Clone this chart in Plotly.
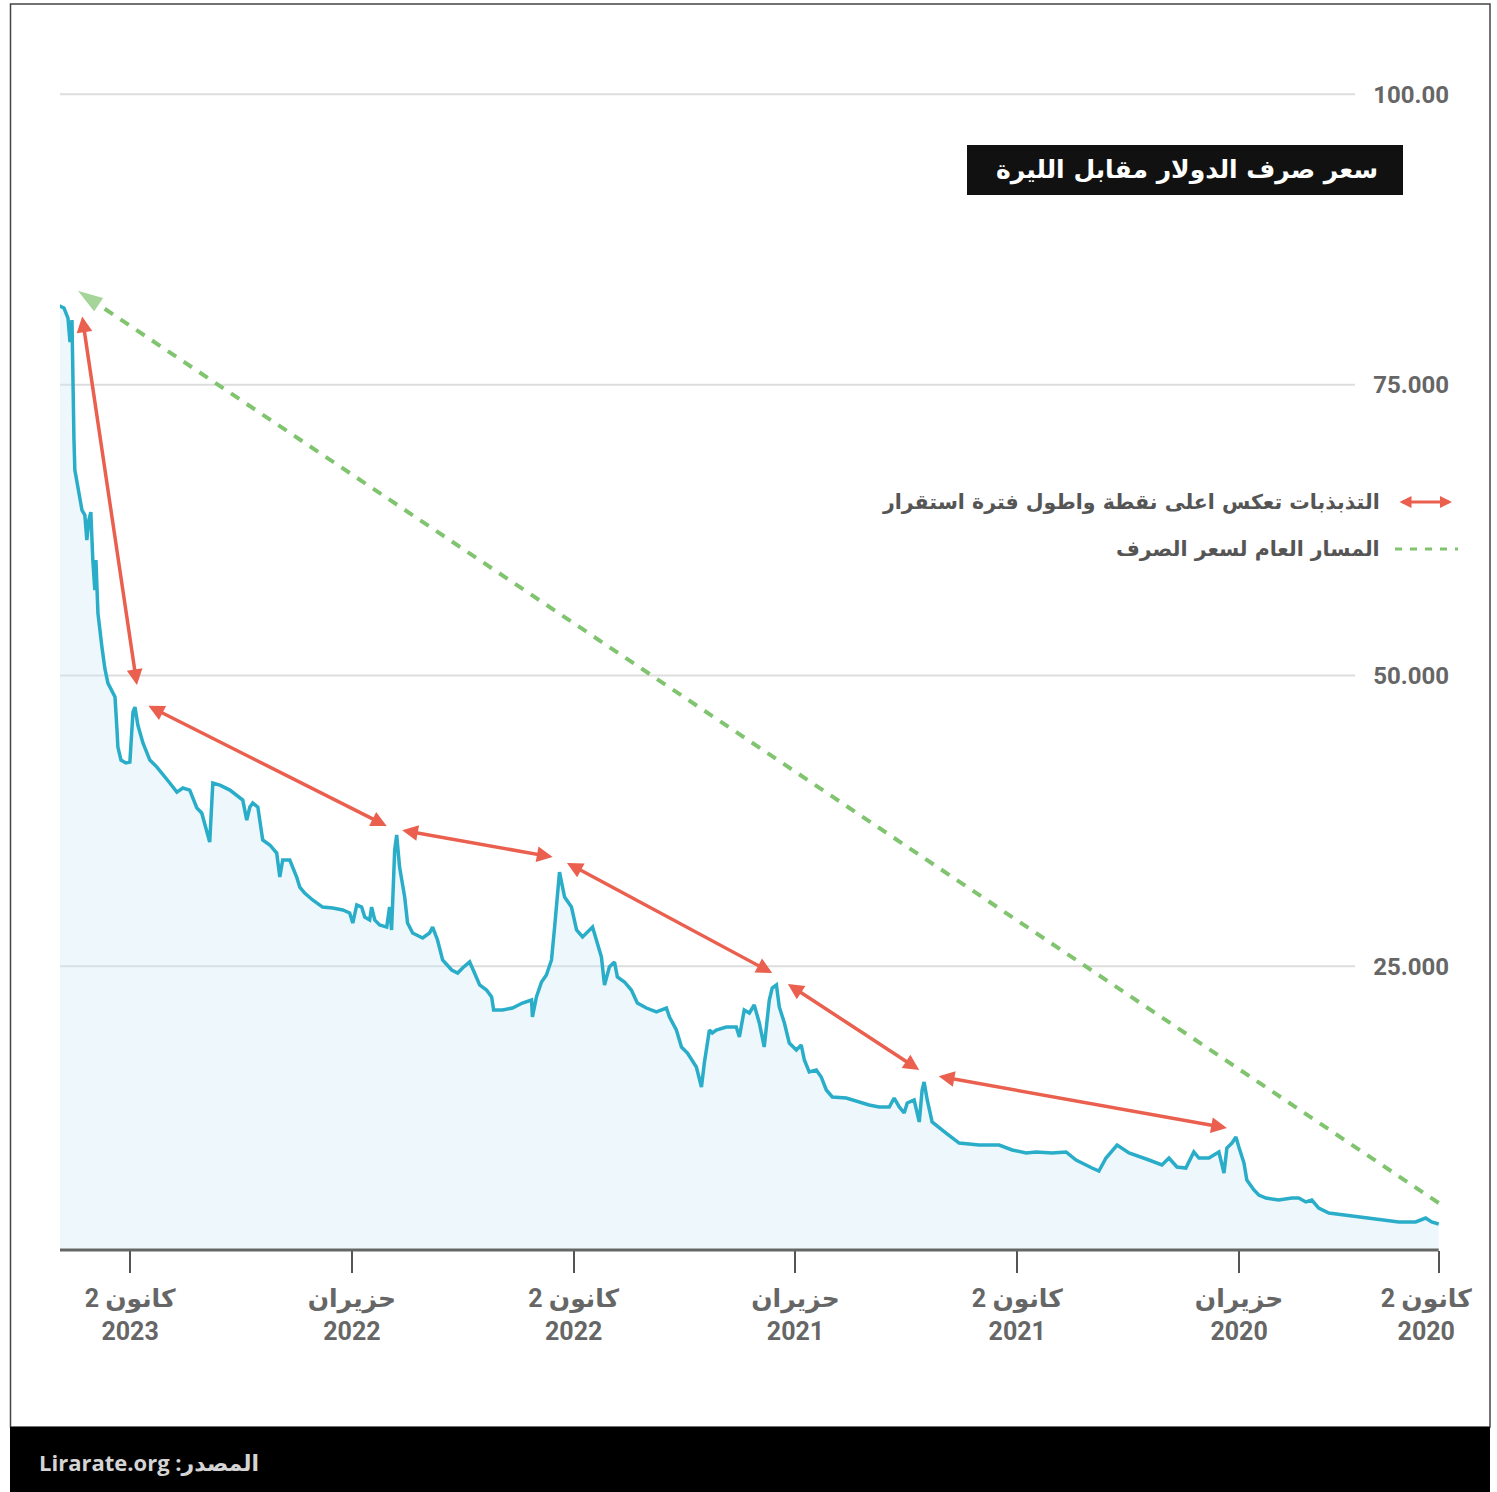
import plotly.graph_objects as go

# ---- data (x = half-year slot position, 0 = Jan 2020, 9 = Jun 2020, 19 = Jan 2021 ...; y = thousand LBP per USD)
period = [62.25, 61.98, 61.80, 61.71, 61.62, 61.58, 61.53, 61.49, 61.35, 61.17, 61.04, 60.95, 60.86, 60.77,
          60.68, 60.59, 60.54, 60.50, 60.45, 60.27, 60.14, 60.00, 59.82, 59.68, 59.59, 59.55, 59.41, 59.19,
          59.01, 58.87, 58.78, 58.65, 58.42, 58.11, 57.79, 57.52, 57.21, 56.89, 56.62, 56.31, 55.99, 55.77,
          55.54, 55.41, 55.27, 54.95, 54.50, 54.19, 53.92, 53.74, 53.60, 53.47, 53.24, 53.02, 52.70, 52.39,
          52.25, 52.12, 51.80, 51.49, 51.35, 51.13, 50.77, 50.32, 49.86, 49.41, 49.10, 48.96, 48.78, 48.56,
          48.42, 48.20, 48.11, 47.97, 47.75, 47.43, 47.30, 47.21, 47.07, 46.98, 46.85, 46.62, 46.49, 46.26,
          45.81, 45.50, 45.36, 45.14, 44.91, 44.50, 44.23, 44.01, 43.69, 43.47, 43.24, 42.93, 42.70, 42.61,
          42.21, 41.76, 41.31, 40.90, 40.86, 40.68, 40.45, 40.23, 40.00, 39.86, 39.64, 39.41, 39.10, 38.87,
          38.60, 38.15, 37.93, 37.75, 37.61, 37.39, 37.16, 37.03, 36.71, 36.40, 36.13, 35.72, 35.27, 34.82,
          34.68, 34.37, 34.14, 33.87, 33.47, 33.24, 33.11, 32.88, 32.75, 32.57, 32.12, 31.67, 31.53, 31.31,
          31.08, 30.86, 30.63, 30.41, 30.18, 30.05, 29.86, 29.73, 29.50, 29.28, 28.96, 28.74, 28.60, 28.38,
          28.06, 27.84, 27.61, 27.34, 26.71, 26.13, 25.68, 25.23, 24.77, 24.55, 24.32, 24.10, 23.96, 23.65,
          23.42, 23.29, 23.20, 23.06, 22.84, 22.21, 21.62, 20.72, 19.82, 19.23, 18.60, 18.15, 17.43, 16.80,
          16.35, 15.63, 15.32, 15.00, 14.50, 13.96, 13.38, 13.06, 12.48, 12.16, 11.80, 11.40, 11.04, 10.81,
          10.36, 9.91, 9.68, 9.55, 9.32, 9.14, 9.01, 8.78, 8.65, 8.33, 8.11, 7.79, 7.21, 6.62,
          6.31, 5.99, 5.72, 5.41, 4.95, 4.19, 3.29, 2.57, 1.80, 1.04, 0.59, 0.32, 0.00]
rate = [81.86, 81.60, 80.74, 78.68, 80.57, 74.55, 70.25, 67.67, 65.95, 64.23, 63.80, 61.65, 63.37, 64.06,
        59.93, 57.35, 59.93, 58.21, 55.37, 52.45, 50.64, 49.35, 48.58, 48.15, 45.31, 43.85, 42.73, 42.48,
        42.56, 46.86, 47.29, 45.74, 44.20, 42.73, 42.13, 41.44, 40.76, 39.98, 40.33, 40.15, 38.61, 38.18,
        36.54, 35.68, 40.76, 40.58, 40.15, 39.72, 39.29, 37.57, 38.69, 39.04, 38.69, 35.86, 35.43, 34.74,
        32.67, 34.14, 34.14, 32.67, 31.81, 31.30, 30.70, 30.09, 30.01, 29.84, 29.58, 28.72, 30.27, 30.09,
        29.23, 28.98, 30.09, 28.98, 28.55, 28.37, 30.09, 28.12, 35.00, 36.29, 33.53, 30.95, 28.72, 27.86,
        27.43, 27.86, 28.37, 27.26, 25.54, 24.68, 24.42, 24.85, 25.37, 24.42, 23.39, 22.96, 22.36, 21.24,
        21.24, 21.41, 21.84, 22.10, 20.64, 22.36, 23.65, 24.25, 25.54, 28.37, 33.10, 30.95, 30.09, 28.12,
        27.52, 28.37, 27.00, 25.80, 23.39, 24.94, 25.37, 24.08, 23.65, 22.96, 21.84, 21.41, 21.07, 21.41,
        20.64, 19.52, 18.06, 17.54, 16.34, 14.62, 16.68, 19.52, 19.26, 19.52, 19.78, 19.78, 18.92, 21.24,
        20.98, 21.67, 20.12, 18.06, 22.10, 23.13, 23.39, 21.50, 20.12, 18.40, 17.80, 18.23, 16.94, 15.91,
        16.08, 15.48, 14.36, 13.76, 13.67, 13.33, 13.07, 12.90, 12.90, 13.67, 12.90, 12.38, 13.24, 13.50,
        11.61, 14.36, 15.05, 13.50, 11.61, 10.66, 9.80, 9.63, 9.63, 9.20, 8.94, 9.03, 8.94, 9.03,
        8.34, 7.65, 7.39, 8.51, 9.63, 8.94, 8.60, 8.34, 7.91, 8.51, 7.74, 7.65, 9.03, 8.51,
        8.51, 9.03, 7.22, 9.37, 9.80, 10.32, 9.46, 8.08, 6.62, 5.76, 5.33, 5.07, 4.90, 5.07,
        5.07, 4.73, 4.90, 4.21, 3.78, 3.61, 3.35, 3.18, 3.01, 3.01, 3.35, 3.01, 2.84]

NBSP = "\u00a0" * 4
tick_pos = [0, 9, 19, 29, 39, 49, 59]
tick_text = ["كانون 2" + NBSP + "<br>2020" + NBSP, "حزيران<br>2020", "كانون 2<br>2021", "حزيران<br>2021",
             "كانون 2<br>2022", "حزيران<br>2022", "كانون 2<br>2023"]

y_ticks = [25, 50, 75, 100]
y_tick_text = ["25.000", "50.000", "75.000", "100.00"]

# red double-headed arrows: swings between peaks / plateaus
arrow_x0 = [61.17, 58.24, 46.80, 39.37, 29.41, 22.61]
arrow_y0 = [81.00, 47.46, 36.72, 33.96, 23.56, 15.56]
arrow_x1 = [58.69, 47.43, 39.95, 30.05, 23.42, 9.55]
arrow_y1 = [49.18, 37.06, 34.39, 24.42, 16.08, 11.09]

# green general trend
trend_x = [0.0, 61.40]
trend_y = [4.64, 83.15]

title_text = "سعر صرف الدولار مقابل الليرة"
legend_red = "التذبذبات تعكس اعلى نقطة واطول فترة استقرار"
legend_green = "المسار العام لسعر الصرف"
source_text = "Lirarate.org :المصدر"

BLUE = "#2aadc8"
RED = "#ea5f4e"
GREEN = "#80c46f"
GREY = "#666666"

x_range = [62.16, -0.6]

fig = go.Figure()

fig.add_trace(go.Scatter(
    x=period, y=rate, mode="lines",
    line=dict(color=BLUE, width=3.5),
    fill="tozeroy", fillcolor="rgba(205,236,246,0.35)",
    hoverinfo="skip", showlegend=False,
))

fig.add_trace(go.Scatter(
    x=trend_x, y=trend_y, mode="lines+markers",
    line=dict(color=GREEN, width=4, dash="10px,9px"),
    marker=dict(symbol="arrow", size=[0, 28], angleref="previous", color=GREEN),
    hoverinfo="skip", showlegend=False,
))

annotations = []
for xa, ya, xb, yb in zip(arrow_x0, arrow_y0, arrow_x1, arrow_y1):
    annotations.append(dict(
        x=xb, y=yb, ax=xa, ay=ya, xref="x", yref="y", axref="x", ayref="y",
        text="", showarrow=True, arrowside="end+start",
        arrowhead=2, startarrowhead=2, arrowsize=0.9, startarrowsize=0.9,
        arrowwidth=3.5, arrowcolor=RED,
    ))

def px_x(px):
    return (px - 60) / 1392.0

def px_y(py):
    return (1250 - py) / 1214.0

# title
annotations.append(dict(
    x=px_x(1187), y=px_y(170), xref="paper", yref="paper", showarrow=False,
    text=title_text, xanchor="center", yanchor="middle",
    font=dict(family="DejaVu Sans", size=25, color="white", weight="bold"),
))
# legend texts
annotations.append(dict(
    x=px_x(1382), y=px_y(502), xref="paper", yref="paper", showarrow=False,
    text=legend_red, xanchor="right", yanchor="middle",
    font=dict(family="DejaVu Sans", size=20.5, color="#555555", weight="bold"),
))
annotations.append(dict(
    x=px_x(1382), y=px_y(549), xref="paper", yref="paper", showarrow=False,
    text=legend_green, xanchor="right", yanchor="middle",
    font=dict(family="DejaVu Sans", size=20.5, color="#555555", weight="bold"),
))
# legend red arrow icon
annotations.append(dict(
    x=px_x(1452), y=px_y(502), ax=-54, ay=0,
    xref="paper", yref="paper", axref="pixel", ayref="pixel",
    text="", showarrow=True, arrowside="end+start", arrowhead=2, startarrowhead=2,
    arrowsize=0.8, startarrowsize=0.8, arrowwidth=3, arrowcolor=RED,
))
# source
annotations.append(dict(
    x=px_x(37), y=px_y(1462), xref="paper", yref="paper", showarrow=False,
    text=source_text, xanchor="left", yanchor="middle",
    font=dict(family="Open Sans, DejaVu Sans", size=22, color="#d4d4d4", weight="bold"),
))

shapes = []
for v in y_ticks:
    shapes.append(dict(type="line", xref="paper", yref="y", x0=0, x1=px_x(1355), y0=v, y1=v,
                       line=dict(color="#dddddd", width=2), layer="below"))
# x axis line
shapes.append(dict(type="line", xref="x", yref="paper", x0=x_range[0], x1=0, y0=0, y1=0,
                   line=dict(color=GREY, width=3), layer="above"))
# title box
shapes.append(dict(type="rect", xref="paper", yref="paper",
                   x0=px_x(967), x1=px_x(1403), y0=px_y(195), y1=px_y(145),
                   fillcolor="#111111", line=dict(width=0), layer="above"))
# green legend line
shapes.append(dict(type="line", xref="paper", yref="paper", x0=px_x(1395), x1=px_x(1458),
                   y0=px_y(549), y1=px_y(549), line=dict(color=GREEN, width=3, dash="7px,8px")))
# frame
shapes.append(dict(type="rect", xref="paper", yref="paper",
                   x0=px_x(10.5), x1=px_x(1490), y0=px_y(1427), y1=px_y(4),
                   line=dict(color="#444444", width=1.5), fillcolor="rgba(0,0,0,0)", layer="above"))
# footer band
shapes.append(dict(type="rect", xref="paper", yref="paper",
                   x0=px_x(10), x1=px_x(1490), y0=px_y(1495), y1=px_y(1427),
                   fillcolor="#000000", line=dict(width=0), layer="above"))

fig.update_layout(
    width=1497, height=1492,
    margin=dict(l=60, r=45, t=36, b=242),
    paper_bgcolor="white", plot_bgcolor="white",
    showlegend=False,
    annotations=annotations,
    shapes=shapes,
    xaxis=dict(range=x_range, tickmode="array", tickvals=tick_pos, ticktext=tick_text,
               ticks="outside", ticklen=22, tickwidth=2, tickcolor="#555555",
               showgrid=False, zeroline=False, showline=False, ticklabelstandoff=4,
               ticklabeloverflow="allow", automargin=False,
               tickfont=dict(family="Roboto, DejaVu Sans", size=25, color=GREY, weight="bold")),
    yaxis=dict(range=[0.6, 105], side="left", anchor="free", position=1.0,
               tickmode="array", tickvals=y_ticks, ticktext=y_tick_text, ticks="",
               showgrid=False, zeroline=False, showline=False, automargin=False,
               ticklabeloverflow="allow", ticklabelstandoff=3,
               tickfont=dict(family="Roboto, DejaVu Sans", size=24, color=GREY, weight="bold")),
)

fig.write_html("out.html")
